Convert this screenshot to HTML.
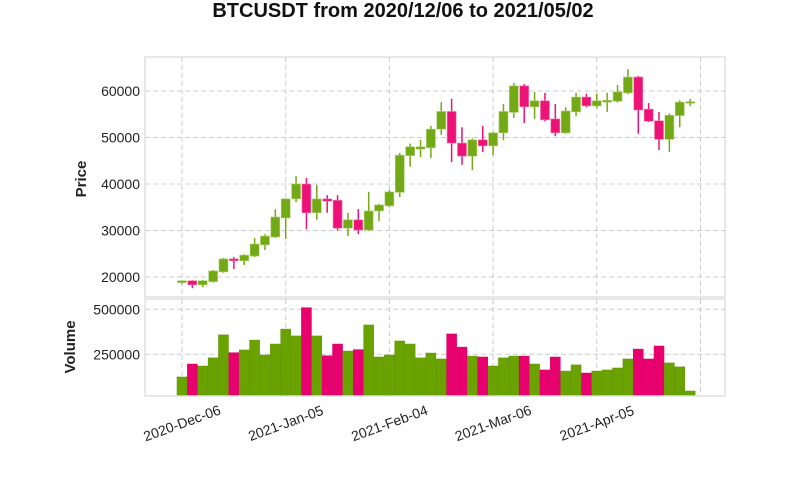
<!DOCTYPE html>
<html><head><meta charset="utf-8"><style>
body{margin:0;background:#fff}
svg{display:block;font-family:"Liberation Sans",sans-serif}
</style></head><body>
<svg id="c" width="806" height="483"></svg>
<script>
const opens=[18800,19200,18300,19000,21100,23900,23500,24500,26900,28600,32700,36800,40000,33800,36800,36500,30500,32300,30100,34200,35300,38200,46100,47500,47800,51800,55600,48800,46000,49500,48200,51000,55400,61100,56600,57900,54000,51000,55500,58700,56800,57600,57800,59600,63000,56100,53600,49600,54700,57400];
const highs=[19300,19300,19400,21500,24100,24300,24900,28400,29200,34600,36900,41700,41300,39800,37600,37600,33800,34600,38300,35700,38700,46700,48700,49500,52500,57600,58300,52200,49800,52500,51200,57200,61700,61500,59800,59600,57200,56500,59600,59400,59400,59600,61300,64700,63200,57400,55500,55200,58000,58300];
const lows=[18500,17600,17800,18800,20900,21700,22600,24300,25800,28400,28200,36100,30300,32300,33800,30000,28800,29200,29900,32000,35000,37200,43700,45800,45600,50600,44700,44100,43000,46900,46200,49400,54200,53100,54000,53500,50300,50800,54600,56500,56300,55500,57500,59300,50800,53300,47300,46900,52200,56700];
const closes=[19200,18300,19200,21300,23900,23500,24700,27100,28800,32900,36800,40000,33800,36800,36300,30500,32300,30100,34200,35500,38300,46200,48000,48000,51800,55600,48800,46000,49500,48200,51000,55600,61100,56600,57900,53800,51000,55700,58700,56800,57900,58000,59800,63000,55900,53500,49600,54800,57600,57700];
const volumes=[124000,196000,185000,230000,358000,259000,274000,329000,246000,307000,390000,352000,509000,352000,242000,307000,268000,276000,413000,235000,246000,324000,307000,230000,257000,224000,363000,290000,240000,235000,185000,230000,240000,240000,196000,163000,235000,157000,191000,146000,157000,163000,174000,224000,279000,224000,296000,202000,180000,46000];
const priceTicks=[20000,30000,40000,50000,60000];
const volTicks=[250000,500000];
const dateLabels=["2020-Dec-06","2021-Jan-05","2021-Feb-04","2021-Mar-06","2021-Apr-05",""];
const dateIdx=[0,10,20,30,40,50];

const NS="http://www.w3.org/2000/svg";
const svg=document.getElementById('c');
function mk(t,a,p){const e=document.createElementNS(NS,t);for(const k in a)e.setAttribute(k,a[k]);(p||svg).appendChild(e);return e;}
const X=i=>182+i*10.37;
const Y=p=>277-(p-20000)*0.00465;
const V=v=>399.3-v/5555.6;
const P={x:145,y:57,w:580,h:240}, Q={x:145,y:299,w:580,h:97};

let t=mk('text',{x:403,y:17,'text-anchor':'middle','font-size':20,'font-weight':'bold',fill:'#111'});
t.textContent='BTCUSDT from 2020/12/06 to 2021/05/02';

[P,Q].forEach((r,k)=>{const b=mk('rect',{x:r.x,y:r.y,width:r.w,height:r.h,fill:'#fff',stroke:'#e0e0e0','stroke-width':1.5});
});

const grid=mk('g',{stroke:'#cccccc','stroke-dasharray':'5,3','stroke-width':1});

dateIdx.forEach(i=>{const x=X(i);mk('line',{x1:x,x2:x,y1:P.y,y2:P.y+P.h},grid);mk('line',{x1:x,x2:x,y1:Q.y,y2:Q.y+Q.h},grid);});
priceTicks.forEach(p=>{mk('line',{x1:P.x,x2:P.x+P.w,y1:Y(p),y2:Y(p)},grid);
 const l=mk('text',{x:140,y:Y(p)+5,'text-anchor':'end','font-size':14,fill:'#222'});l.textContent=p;});
volTicks.forEach(v=>{mk('line',{x1:Q.x,x2:Q.x+Q.w,y1:V(v),y2:V(v)},grid);
 const l=mk('text',{x:140,y:V(v)+5,'text-anchor':'end','font-size':14,fill:'#222'});l.textContent=v;});
dateIdx.forEach((i,k)=>{if(!dateLabels[k])return;const x=X(i),y=423;
 const l=mk('text',{x:x,y:y+5,'text-anchor':'middle','font-size':14,fill:'#222',transform:`rotate(-20 ${x} ${y})`});
 l.textContent=dateLabels[k];});

let yl=mk('text',{x:0,y:0,'text-anchor':'middle','font-size':15,'font-weight':'bold',fill:'#222',transform:'translate(86 179) rotate(-90)'});
yl.textContent='Price';
yl=mk('text',{x:0,y:0,'text-anchor':'middle','font-size':15,'font-weight':'bold',fill:'#222',transform:'translate(75 347) rotate(-90)'});
yl.textContent='Volume';

const cg=mk('g',{});
opens.forEach((o,i)=>{const c=closes[i],up=c>=o,col=up?'#73a817':'#ec1277',x=X(i);
 const w=mk('line',{x1:x,x2:x,y1:Y(highs[i]),y2:Y(lows[i]),stroke:col,'stroke-width':1.5},cg);
 
 const top=Y(Math.max(o,c)),h=Math.max(1.5,Math.abs(Y(o)-Y(c)));
 const b=mk('rect',{x:x-4.5,y:top,width:9,height:h,fill:col,stroke:up?'#a9d36a':'#f57aae','stroke-width':0.6},cg);
 });

const vg=mk('g',{});
volumes.forEach((v,i)=>{const up=closes[i]>=opens[i],x=X(i);const y=V(v);
 const r=mk('rect',{x:x-5,y:y,width:10,height:Math.max(0,Q.y+Q.h-1-y),fill:up?'#6aa300':'#e8006e',stroke:up?'#5e9200':'#d0005f','stroke-width':0.5},vg);
 });
</script>
</body></html>
